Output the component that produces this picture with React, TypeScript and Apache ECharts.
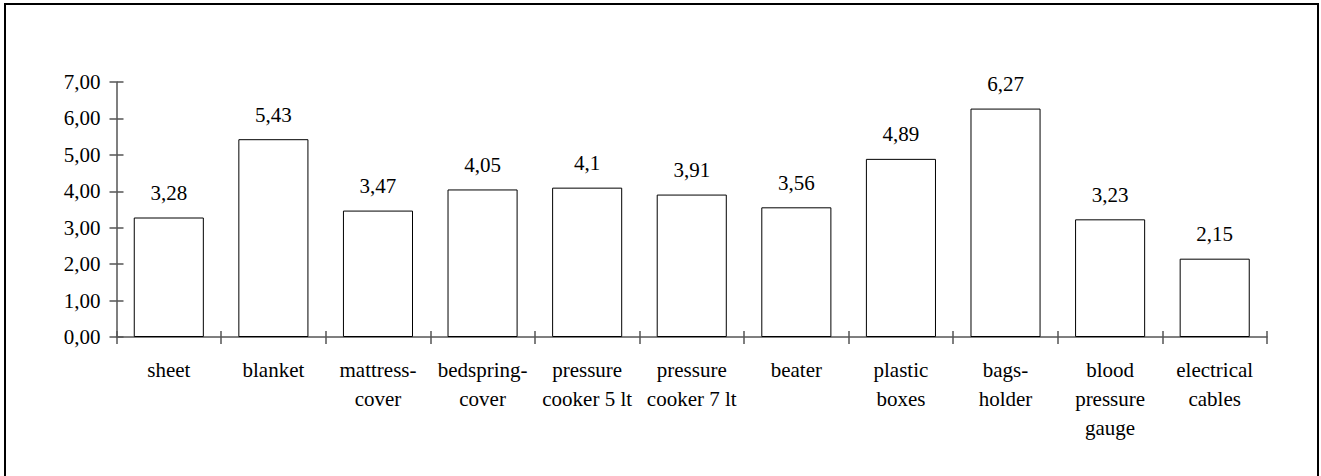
import React, { useEffect, useRef } from "react";
import * as echarts from "echarts";

const categories = [
  "sheet",
  "blanket",
  "mattress-\ncover",
  "bedspring-\ncover",
  "pressure\ncooker 5 lt",
  "pressure\ncooker 7 lt",
  "beater",
  "plastic\nboxes",
  "bags-\nholder",
  "blood\npressure\ngauge",
  "electrical\ncables",
];
const values = [3.28, 5.43, 3.47, 4.05, 4.1, 3.91, 3.56, 4.89, 6.27, 3.23, 2.15];
const yMin = 0;
const yMax = 7;
const yStep = 1;

const FONT = "Liberation Serif";
const FS = 21;

export default function App() {
  const ref = useRef<HTMLDivElement>(null);
  useEffect(() => {
    if (!ref.current) return;
    const chart = echarts.init(ref.current, null, { renderer: "svg" });
    const axisColor = "#555";
    chart.setOption({
      animation: false,
      backgroundColor: "#fff",
      textStyle: { fontFamily: FONT },
      grid: { left: 116.5, right: 54, top: 82, bottom: 139 },
      graphic: [
        {
          type: "rect",
          shape: { x: 5, y: 4, width: 1313, height: 490 },
          style: { fill: "none", stroke: "#000", lineWidth: 2 },
          silent: true,
        },
      ],
      xAxis: [
        {
          type: "category",
          data: categories,
          position: "bottom",
          axisLine: { show: true, lineStyle: { color: axisColor, width: 1.5 } },
          axisTick: { show: true, inside: false, length: 7, lineStyle: { color: axisColor, width: 1.5 } },
          axisLabel: {
            color: "#000",
            fontSize: FS,
            fontFamily: FONT,
            lineHeight: 29,
            margin: 18,
            interval: 0,
          },
          splitLine: { show: false },
        },
        {
          type: "category",
          data: categories,
          position: "bottom",
          axisLine: { show: false },
          axisTick: { show: true, inside: true, length: 6, lineStyle: { color: axisColor, width: 1.5 } },
          axisLabel: { show: false },
          splitLine: { show: false },
        },
      ],
      yAxis: [
        {
          type: "value",
          min: yMin,
          max: yMax,
          interval: yStep,
          axisLine: { show: true, lineStyle: { color: axisColor, width: 1.5 } },
          axisTick: { show: true, inside: false, length: 7, lineStyle: { color: axisColor, width: 1.5 } },
          axisLabel: {
            color: "#000",
            fontSize: FS,
            fontFamily: FONT,
            margin: 16,
            formatter: (v: number) => v.toFixed(2).replace(".", ","),
          },
          splitLine: { show: false },
        },
        {
          type: "value",
          min: yMin,
          max: yMax,
          interval: yStep,
          position: "left",
          axisLine: { show: false },
          axisTick: { show: true, inside: true, length: 7, lineStyle: { color: axisColor, width: 1.5 } },
          axisLabel: { show: false },
          splitLine: { show: false },
        },
      ],
      series: [
        {
          type: "bar",
          data: values,
          xAxisIndex: 0,
          yAxisIndex: 0,
          barWidth: "67%",
          itemStyle: { color: "#fff", borderColor: "#000", borderWidth: 1 },
          label: {
            show: true,
            position: "top",
            distance: 14,
            color: "#000",
            fontSize: FS,
            fontFamily: FONT,
            formatter: (p: any) => String(p.value).replace(".", ","),
          },
        },
      ],
    });
    return () => chart.dispose();
  }, []);
  return (
    <div
      ref={ref}
      style={{ position: "fixed", left: 0, top: 0, width: 1321, height: 476 }}
    />
  );
}
